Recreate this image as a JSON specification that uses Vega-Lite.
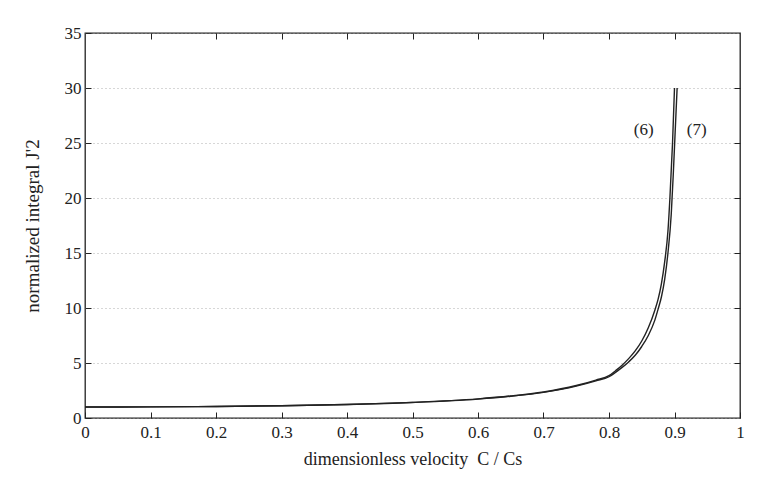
{
  "$schema": "https://vega.github.io/schema/vega-lite/v6.json",
  "autosize": {"type": "none"},
  "width": 655,
  "height": 385,
  "padding": {"left": 85, "top": 33, "right": 23, "bottom": 66},
  "background": "white",
  "config": {
    "view": {"stroke": "#222", "strokeWidth": 1.3},
    "font": "Liberation Serif",
    "axis": {
      "labelFont": "Liberation Serif",
      "titleFont": "Liberation Serif",
      "labelFontSize": 17,
      "titleFontSize": 18,
      "titleFontWeight": "normal",
      "labelColor": "#222",
      "titleColor": "#222",
      "domain": false,
      "tickColor": "#222",
      "tickWidth": 1,
      "tickSize": -6
    }
  },
  "datasets": {
    "curves": [
      {"series": "(6)", "c": 0.0, "j": 1.0},
      {"series": "(6)", "c": 0.1, "j": 1.01},
      {"series": "(6)", "c": 0.2, "j": 1.05},
      {"series": "(6)", "c": 0.3, "j": 1.12},
      {"series": "(6)", "c": 0.4, "j": 1.23},
      {"series": "(6)", "c": 0.5, "j": 1.42},
      {"series": "(6)", "c": 0.6, "j": 1.74},
      {"series": "(6)", "c": 0.65, "j": 2.0},
      {"series": "(6)", "c": 0.7, "j": 2.36},
      {"series": "(6)", "c": 0.75, "j": 2.95},
      {"series": "(6)", "c": 0.78, "j": 3.45},
      {"series": "(6)", "c": 0.8, "j": 3.85},
      {"series": "(6)", "c": 0.81, "j": 4.3},
      {"series": "(6)", "c": 0.82, "j": 4.8},
      {"series": "(6)", "c": 0.83, "j": 5.4},
      {"series": "(6)", "c": 0.84, "j": 6.1},
      {"series": "(6)", "c": 0.85, "j": 7.0},
      {"series": "(6)", "c": 0.86, "j": 8.2},
      {"series": "(6)", "c": 0.87, "j": 9.8},
      {"series": "(6)", "c": 0.875, "j": 10.8},
      {"series": "(6)", "c": 0.88, "j": 12.2},
      {"series": "(6)", "c": 0.885, "j": 14.2},
      {"series": "(6)", "c": 0.89, "j": 17.0},
      {"series": "(6)", "c": 0.893, "j": 20.0},
      {"series": "(6)", "c": 0.897, "j": 25.0},
      {"series": "(6)", "c": 0.9, "j": 30.0},
      {"series": "(7)", "c": 0.0, "j": 1.0},
      {"series": "(7)", "c": 0.1, "j": 1.01},
      {"series": "(7)", "c": 0.2, "j": 1.05},
      {"series": "(7)", "c": 0.3, "j": 1.12},
      {"series": "(7)", "c": 0.4, "j": 1.23},
      {"series": "(7)", "c": 0.5, "j": 1.41},
      {"series": "(7)", "c": 0.6, "j": 1.72},
      {"series": "(7)", "c": 0.65, "j": 1.98},
      {"series": "(7)", "c": 0.7, "j": 2.33},
      {"series": "(7)", "c": 0.75, "j": 2.9},
      {"series": "(7)", "c": 0.78, "j": 3.38},
      {"series": "(7)", "c": 0.8, "j": 3.75},
      {"series": "(7)", "c": 0.81, "j": 4.15},
      {"series": "(7)", "c": 0.82, "j": 4.6},
      {"series": "(7)", "c": 0.83, "j": 5.1},
      {"series": "(7)", "c": 0.84, "j": 5.7},
      {"series": "(7)", "c": 0.85, "j": 6.5},
      {"series": "(7)", "c": 0.86, "j": 7.5},
      {"series": "(7)", "c": 0.87, "j": 8.9},
      {"series": "(7)", "c": 0.875, "j": 9.9},
      {"series": "(7)", "c": 0.88, "j": 11.0},
      {"series": "(7)", "c": 0.885, "j": 12.6},
      {"series": "(7)", "c": 0.89, "j": 15.0},
      {"series": "(7)", "c": 0.895, "j": 18.5},
      {"series": "(7)", "c": 0.898, "j": 22.0},
      {"series": "(7)", "c": 0.901, "j": 26.0},
      {"series": "(7)", "c": 0.904, "j": 30.0}
    ],
    "labels": [
      {"series": "(6)", "c": 0.853, "j": 26.2},
      {"series": "(7)", "c": 0.934, "j": 26.2}
    ]
  },
  "layer": [
    {
      "data": {"name": "curves"},
      "mark": {"type": "line", "color": "#222", "strokeWidth": 1.4, "clip": true, "interpolate": "monotone"},
      "encoding": {
        "x": {
          "field": "c", "type": "quantitative",
          "scale": {"domain": [0, 1], "nice": false},
          "axis": {
            "title": "dimensionless velocity\u00a0\u00a0C / Cs",
            "values": [0, 0.1, 0.2, 0.3, 0.4, 0.5, 0.6, 0.7, 0.8, 0.9, 1],
            "format": "~g",
            "grid": false,
            "labelPadding": 12,
            "titlePadding": 10,
            "labelFlush": false
          }
        },
        "y": {
          "field": "j", "type": "quantitative",
          "scale": {"domain": [0, 35], "nice": false},
          "axis": {
            "title": "normalized integral J'2",
            "titleFontSize": 19,
            "values": [0, 5, 10, 15, 20, 25, 30, 35],
            "grid": true,
            "gridColor": "#9a9a9a",
            "gridDash": [1, 3],
            "gridWidth": 0.8,
            "labelPadding": 10,
            "titlePadding": 22
          }
        },
        "detail": {"field": "series"}
      }
    },
    {
      "data": {"name": "curves"},
      "mark": {"type": "line", "opacity": 0},
      "encoding": {
        "x": {
          "field": "c", "type": "quantitative",
          "axis": {"orient": "top", "title": null, "labels": false, "grid": false,
                   "values": [0.1, 0.2, 0.3, 0.4, 0.5, 0.6, 0.7, 0.8, 0.9]}
        },
        "y": {
          "field": "j", "type": "quantitative",
          "axis": {"orient": "right", "title": null, "labels": false, "grid": false,
                   "values": [5, 10, 15, 20, 25, 30]}
        },
        "detail": {"field": "series"}
      }
    },
    {
      "data": {"name": "labels"},
      "mark": {"type": "text", "font": "Liberation Serif", "fontSize": 17, "color": "#222"},
      "encoding": {
        "x": {"field": "c", "type": "quantitative", "axis": null},
        "y": {"field": "j", "type": "quantitative", "axis": null},
        "text": {"field": "series"}
      }
    }
  ],
  "resolve": {"axis": {"x": "independent", "y": "independent"}}
}
